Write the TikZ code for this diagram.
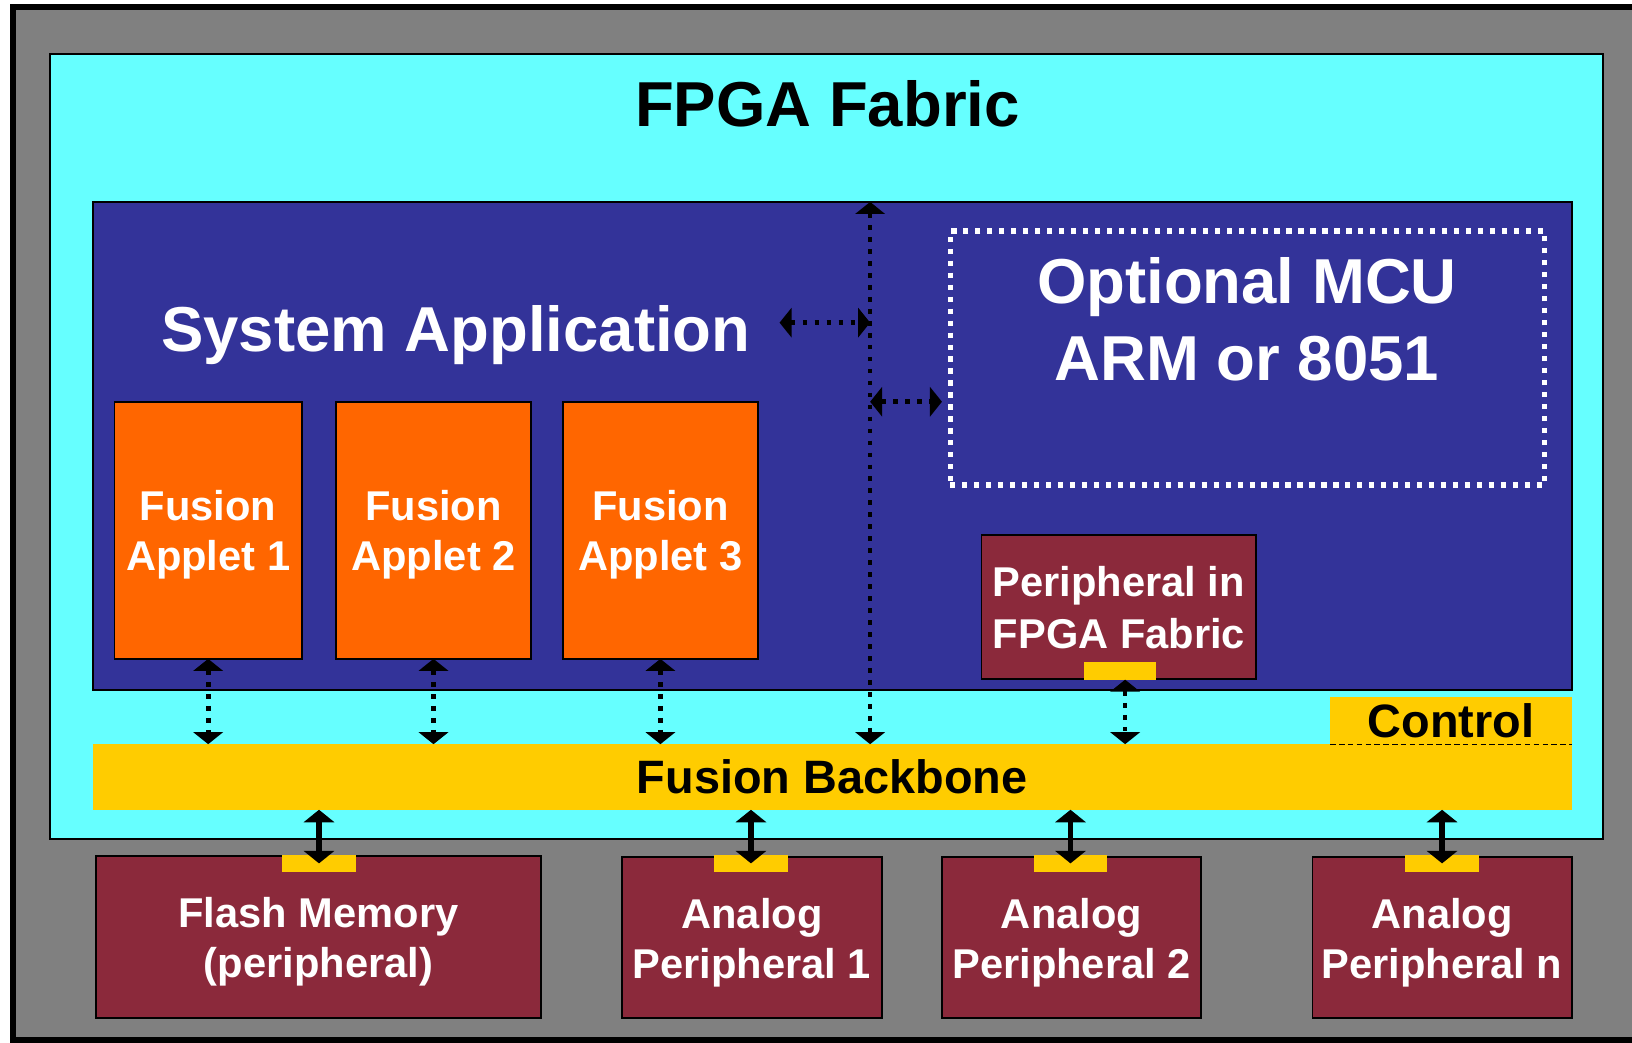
\documentclass[tikz,border=0pt]{standalone}
\usepackage{fontspec}
\setmainfont{Liberation Sans}
\usetikzlibrary{arrows.meta}
\definecolor{bggray}{RGB}{128,128,128}
\definecolor{fabric}{RGB}{102,255,255}
\definecolor{sysblue}{RGB}{51,51,153}
\definecolor{appletc}{RGB}{255,102,0}
\definecolor{periph}{RGB}{139,41,59}
\definecolor{bbyellow}{RGB}{255,204,0}
\begin{document}
\begin{tikzpicture}[x=1pt,y=-1pt,
  every node/.style={inner sep=0pt, outer sep=0pt},
  plain/.style={anchor=north west},
  blk/.style={draw=black, line width=1.8pt, anchor=north west},
  btxt/.style={align=center, text=white, font=\bfseries\fontsize{40}{48}\selectfont},
  tabbox/.style={fill=bbyellow, anchor=north west, minimum width=71pt, minimum height=17pt},
  bigtxt/.style={font=\bfseries\fontsize{61}{74}\selectfont},
  dotarrow/.style={line width=4.5pt, dash pattern=on 4.5pt off 7pt,
     {Triangle[width=28pt,length=11.5pt]}-{Triangle[width=28pt,length=11.5pt]}},
  solidarrow/.style={line width=5pt,
     {Triangle[width=29pt,length=12pt]}-{Triangle[width=29pt,length=12pt]}},
  ctrlline/.style={line width=1.2pt, dash pattern=on 5.3pt off 3.2pt},
]
\useasboundingbox (0,0) rectangle (1568,1002);
\clip (0,0) rectangle (1568,1002);
% outer chip
\filldraw[fill=bggray, draw=black, line width=5.8pt] (12.5,6.7) rectangle (1640,999.5);
% FPGA fabric
\node[plain, draw=black, line width=2pt, fill=fabric, minimum width=1492pt, minimum height=754pt] (fabric) at (48,52) {};
\node[bigtxt, anchor=base] (fpgatitle) at (795,122) {FPGA Fabric};
% system application
\node[plain, draw=black, line width=1.8pt, fill=sysblue, minimum width=1421pt, minimum height=469pt] (sys) at (89,194) {};
\node[bigtxt, text=white, anchor=base] (systitle) at (438,338) {System Application};
% applets
\node[blk, fill=appletc, minimum width=180pt, minimum height=247pt] (app1) at (110,386) {};
\node[blk, fill=appletc, minimum width=187pt, minimum height=247pt] (app2) at (323,386) {};
\node[blk, fill=appletc, minimum width=187pt, minimum height=247pt] (app3) at (541,386) {};
\node[btxt] (app1t) at ([yshift=-4.5pt]app1.center) {Fusion\\Applet 1};
\node[btxt] (app2t) at ([yshift=-4.5pt]app2.center) {Fusion\\Applet 2};
\node[btxt] (app3t) at ([yshift=-4.5pt]app3.center) {Fusion\\Applet 3};
% optional MCU
\node[plain, draw=white, line width=5pt, dash pattern=on 5pt off 6.5pt, minimum width=571pt, minimum height=244pt] (mcu) at (913,222) {};
\node[bigtxt, text=white, align=center] (mcutext) at (1198,307) {Optional MCU\\ARM or 8051};
% peripheral in fabric
\node[blk, fill=periph, minimum width=264pt, minimum height=138pt] (pfab) at (943,514) {};
\node[btxt, font=\bfseries\fontsize{40}{50}\selectfont] (pfabt) at ([yshift=-1pt]pfab.center) {Peripheral in\\FPGA Fabric};
\node[tabbox, minimum width=70pt] (ptab) at (1041,636) {};
% backbone and control
\node[plain, fill=bbyellow, minimum width=1421pt, minimum height=63pt, font=\bfseries\fontsize{45}{54}\selectfont] (bb) at (89,715) {Fusion Backbone};
\node[plain, fill=bbyellow, minimum width=232pt, minimum height=45pt, font=\bfseries\fontsize{45}{54}\selectfont] (ctrl) at (1278,670) {Control};
\draw[ctrlline] (ctrl.south west) -- (ctrl.south east);
% external peripherals
\node[blk, fill=periph, minimum width=428pt, minimum height=156pt] (flash) at (92,822) {};
\node[blk, fill=periph, minimum width=249pt, minimum height=155pt] (ap1) at (598,823) {};
\node[blk, fill=periph, minimum width=249pt, minimum height=155pt] (ap2) at (905,823) {};
\node[blk, fill=periph, minimum width=249pt, minimum height=155pt] (apn) at (1261,823) {};
\node[btxt] (flasht) at ([yshift=-4.5pt]flash.center) {Flash Memory\\(peripheral)};
\node[btxt] (ap1t) at ([yshift=-5pt]ap1.center) {Analog\\Peripheral 1};
\node[btxt] (ap2t) at ([yshift=-5pt]ap2.center) {Analog\\Peripheral 2};
\node[btxt] (apnt) at ([yshift=-5pt]apn.center) {Analog\\Peripheral n};
\node[tabbox] (flashtab) at (271,821) {};
\node[tabbox] (ap1tab) at (686,821) {};
\node[tabbox] (ap2tab) at (993,821) {};
\node[tabbox] (apntab) at (1350,821) {};
% dotted connectors
\draw[dotarrow] (app1.south) -- (app1.south |- bb.north);
\draw[dotarrow] (app2.south) -- (app2.south |- bb.north);
\draw[dotarrow] (app3.south) -- (app3.south |- bb.north);
\draw[dotarrow] ([xshift=5pt]ptab.south) -- ([xshift=5pt]ptab.south |- bb.north);
\coordinate (vtop) at (836,194);
\coordinate (vbot) at (836,715);
\draw[dotarrow] (vtop) -- (vbot);
\coordinate (h1l) at (749,310);
\coordinate (h1r) at (836,310);
\draw[dotarrow] (h1l) -- (h1r);
\coordinate (h2l) at (836,386);
\coordinate (h2r) at (905,386);
\draw[dotarrow] (h2l) -- (h2r);
% solid connectors
\draw[solidarrow] (flashtab.center |- bb.south) -- (flashtab.center);
\draw[solidarrow] (ap1tab.center |- bb.south) -- (ap1tab.center);
\draw[solidarrow] (ap2tab.center |- bb.south) -- (ap2tab.center);
\draw[solidarrow] (apntab.center |- bb.south) -- (apntab.center);
\end{tikzpicture}
\end{document}
